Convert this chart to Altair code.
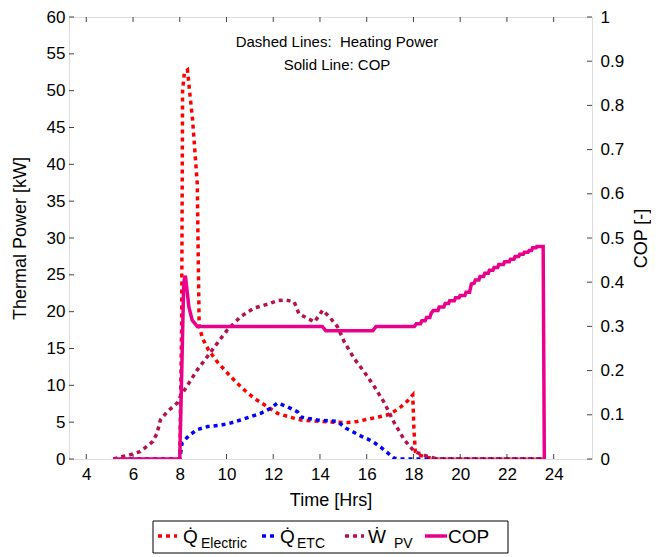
import altair as alt
import pandas as pd

# ---------------- data ----------------
elec_t = [5.15, 8.0, 8.08, 8.12, 8.2, 8.33, 8.45, 8.55, 8.75, 8.8, 8.83, 9.0, 9.23, 9.6, 10.03, 10.45,
          10.89, 11.3, 11.75, 12.18, 12.7, 13.18, 13.6, 14.04, 14.6, 15.18, 15.6, 16.04, 16.5, 16.9,
          17.2, 17.47, 17.75, 17.97, 18.02, 18.08, 18.3, 18.6, 19.0, 23.6]
elec_p = [0, 0, 18, 50, 52.5, 52.8, 49, 46, 37.3, 25, 17.9, 16.2, 14.8, 13.2, 11.7, 10.3,
          9.0, 8.0, 7.1, 6.2, 5.7, 5.3, 5.2, 5.1, 5.0, 4.95, 5.1, 5.4, 5.7, 6.0,
          6.5, 7.1, 7.9, 8.7, 4.0, 1.0, 0.5, 0.2, 0, 0]

etc_t = [5.15, 8.0, 8.1, 8.4, 8.75, 9.2, 9.75, 10.2, 10.6, 11.0, 11.46, 11.9, 12.18, 12.6, 13.04,
         13.18, 13.5, 13.9, 14.3, 14.75, 15.1, 15.4, 15.76, 16.05, 16.33, 16.6, 16.83, 17.18, 17.4, 23.6]
etc_p = [0, 0, 2.2, 3.2, 4.0, 4.4, 4.6, 4.9, 5.3, 5.7, 6.2, 6.9, 7.6, 7.1, 6.4,
         5.7, 5.5, 5.3, 5.2, 5.1, 4.2, 3.7, 3.1, 2.7, 2.2, 1.6, 1.0, 0.1, 0, 0]

pv_t = [5.17, 5.5, 5.8, 6.3, 6.67, 6.85, 7.03, 7.17, 7.46, 7.89, 8.03, 8.39, 8.75, 9.18, 9.6, 10.03,
        10.6, 11.18, 11.75, 12.18, 12.54, 12.9, 13.1, 13.47, 13.76, 13.97, 14.11, 14.4, 14.76, 15.04,
        15.47, 15.9, 16.33, 16.76, 17.18, 17.61, 18.04, 18.61, 19.04, 23.6]
pv_p = [0, 0.3, 0.5, 1.0, 1.9, 2.4, 3.5, 5.3, 6.4, 7.6, 8.5, 10.3, 12.1, 13.9, 15.7, 17.5,
        19.3, 20.5, 21.0, 21.5, 21.6, 21.3, 19.7, 19.1, 18.6, 19.5, 20.2, 19.3, 17.9, 15.9,
        13.6, 11.8, 9.8, 7.6, 4.9, 2.6, 1.0, 0.35, 0, 0]

cop_t = [5.15, 8.0, 8.17, 8.24, 8.39, 8.53, 8.75, 14.1, 14.25, 16.26, 16.4, 18.04,
         18.12, 18.3, 18.36, 18.5, 18.56, 18.7, 18.76, 18.85, 19.05, 19.1, 19.3, 19.36, 19.5, 19.55,
         19.75, 19.8, 19.95, 20.0, 20.2, 20.25, 20.4, 20.48, 20.6, 20.65, 20.8, 20.85, 21.0, 21.05,
         21.2, 21.25, 21.4, 21.45, 21.6, 21.65, 21.85, 21.9, 22.1, 22.15, 22.3, 22.35, 22.5, 22.55,
         22.7, 22.75, 22.9, 22.95, 23.05, 23.1, 23.25, 23.28, 23.55, 23.6]
cop_v = [0, 0, 0.40, 0.415, 0.344, 0.314, 0.30, 0.30, 0.29, 0.29, 0.30, 0.30,
         0.306, 0.306, 0.313, 0.313, 0.320, 0.320, 0.330, 0.336, 0.336, 0.344, 0.344, 0.352, 0.352, 0.358,
         0.358, 0.365, 0.365, 0.370, 0.370, 0.377, 0.377, 0.396, 0.398, 0.405, 0.405, 0.413, 0.413, 0.420,
         0.420, 0.427, 0.427, 0.433, 0.433, 0.440, 0.440, 0.446, 0.446, 0.452, 0.452, 0.458, 0.458, 0.463,
         0.463, 0.468, 0.468, 0.472, 0.472, 0.478, 0.478, 0.481, 0.481, 0]

x_ticks = [4, 6, 8, 10, 12, 14, 16, 18, 20, 22, 24]
y_ticks = [0, 5, 10, 15, 20, 25, 30, 35, 40, 45, 50, 55, 60]
cop_ticks = [0, 0.1, 0.2, 0.3, 0.4, 0.5, 0.6, 0.7, 0.8, 0.9, 1.0]

series_names = ["Electric", "ETC", "PV"]
series_colors = ["#FF0000", "#0000FF", "#B4124F"]
cop_color = "#EB008B"

# ---------------- layout ----------------
W, H = 523, 442
FONT = "Liberation Sans"

rows = []
for name, ts, ps in zip(series_names, [elec_t, etc_t, pv_t], [elec_p, etc_p, pv_p]):
    for i, (t, p) in enumerate(zip(ts, ps)):
        rows.append({"series": name, "t": t, "p": p, "o": i})
power_df = pd.DataFrame(rows)
cop_df = pd.DataFrame({"t": cop_t, "cop": cop_v, "o": range(len(cop_t))})

xscale = alt.Scale(domain=[3.26, 25.64], nice=False, zero=False)
yscale = alt.Scale(domain=[0, 60], nice=False)
cscale = alt.Scale(domain=[0, 1], nice=False)

x_axis = alt.Axis(values=x_ticks, title="Time [Hrs]", ticks=False, domain=False, grid=False,
                  labelOverlap=False, labelFontSize=17, labelPadding=7, titleFontSize=18,
                  titlePadding=9, titleFontWeight="normal", labelFont=FONT, titleFont=FONT,
                  labelColor="black", titleColor="black")
y_axis = alt.Axis(values=y_ticks, title="Thermal Power [kW]", ticks=False,
                  domain=False, grid=False, labelOverlap=False, labelFontSize=17,
                  labelPadding=4, titleFontSize=18, titleX=-49, titleY=H / 2,
                  titleAlign="center", titleBaseline="middle", titleAngle=270,
                  titleFontWeight="normal", labelFont=FONT, titleFont=FONT,
                  labelColor="black", titleColor="black")
c_axis = alt.Axis(values=cop_ticks, format="~g", title="COP [-]", orient="right", ticks=False,
                  domain=False, grid=False, labelOverlap=False, labelFontSize=17,
                  labelPadding=8, titleFontSize=18, titleX=49, titleY=H / 2,
                  titleAlign="center", titleBaseline="middle", titleAngle=270,
                  titleFontWeight="normal", labelFont=FONT, titleFont=FONT,
                  labelColor="black", titleColor="black")

x_enc = alt.X("t:Q", scale=xscale, axis=x_axis)

power_lines = []
for name, col in zip(series_names, series_colors):
    power_lines.append(
        alt.Chart(power_df).transform_filter(alt.datum.series == name)
        .mark_line(color=col, strokeWidth=3.5, strokeDash=[4, 4], strokeCap="butt", clip=True)
        .encode(x=x_enc, y=alt.Y("p:Q", scale=yscale, axis=y_axis), order="o:Q")
    )

xt_df = pd.DataFrame({"t": x_ticks})
yt_df = pd.DataFrame({"p": y_ticks})
ct_df = pd.DataFrame({"cop": cop_ticks})

tick_bottom = alt.Chart(xt_df).mark_rule(color="#444", strokeWidth=1).encode(
    x=x_enc, y=alt.value(H), y2=alt.value(H - 5))
tick_top = alt.Chart(xt_df).mark_rule(color="#444", strokeWidth=1).encode(
    x=x_enc, y=alt.value(0), y2=alt.value(5))
tick_left = alt.Chart(yt_df).mark_rule(color="#444", strokeWidth=1).encode(
    y=alt.Y("p:Q", scale=yscale, axis=y_axis), x=alt.value(0), x2=alt.value(5))

one = pd.DataFrame({"a": [0]})


def txt(s, x, y, size, align="center", baseline="middle", angle=0):
    return alt.Chart(one).mark_text(text=s, font=FONT, fontSize=size, color="black", align=align,
                                    baseline=baseline, angle=angle).encode(
        x=alt.value(x), y=alt.value(y))


annot = [txt("Dashed Lines:\u00a0 Heating Power", 268, 25, 15),
         txt("Solid Line: COP", 268, 48, 15)]

# legend (box below the plot)
LY = 519
legend_box = alt.Chart(one).mark_rect(fill="white", stroke="black", strokeWidth=1).encode(
    x=alt.value(84), x2=alt.value(439), y=alt.value(504), y2=alt.value(536))


def sample(x0, x1, col, dash):
    kw = dict(color=col, strokeWidth=3.5, strokeCap="butt")
    if dash:
        kw["strokeDash"] = [4, 4]
    return alt.Chart(one).mark_rule(**kw).encode(x=alt.value(x0), x2=alt.value(x1), y=alt.value(LY),
                                                 y2=alt.value(LY))


legend = [legend_box,
          sample(89, 108, series_colors[0], True),
          txt("Q\u0307", 114, 526, 19, align="left", baseline="alphabetic"),
          txt("Electric", 132, 531, 14, align="left", baseline="alphabetic"),
          sample(193, 208, series_colors[1], True),
          txt("Q\u0307", 211, 526, 19, align="left", baseline="alphabetic"),
          txt("ETC", 228, 531, 14, align="left", baseline="alphabetic"),
          sample(276, 295, series_colors[2], True),
          txt("W\u0307", 299, 526, 19, align="left", baseline="alphabetic"),
          txt("PV", 325, 531, 14, align="left", baseline="alphabetic"),
          sample(356, 378, cop_color, False),
          txt("COP", 379, 526, 19, align="left", baseline="alphabetic")]

left = alt.layer(*power_lines, tick_bottom, tick_top, tick_left, *annot, *legend)

cop_line = alt.Chart(cop_df).mark_line(color=cop_color, strokeWidth=3.5, clip=True).encode(
    x=alt.X("t:Q", scale=xscale, axis=x_axis),
    y=alt.Y("cop:Q", scale=cscale, axis=c_axis),
    order="o:Q")
tick_right = alt.Chart(ct_df).mark_rule(color="#444", strokeWidth=1).encode(
    y=alt.Y("cop:Q", scale=cscale, axis=c_axis), x=alt.value(W), x2=alt.value(W - 5))

right = alt.layer(cop_line, tick_right)

chart = alt.layer(left, right).resolve_scale(y="independent").properties(
    width=W, height=H, autosize=alt.AutoSizeParams(type="none"),
    padding={"left": 61, "top": 9, "right": 59, "bottom": 96}
).configure_view(stroke="#222", strokeWidth=1.2).configure(background="white")

chart.save("out.html", embed_options={"renderer": "svg", "actions": False})
